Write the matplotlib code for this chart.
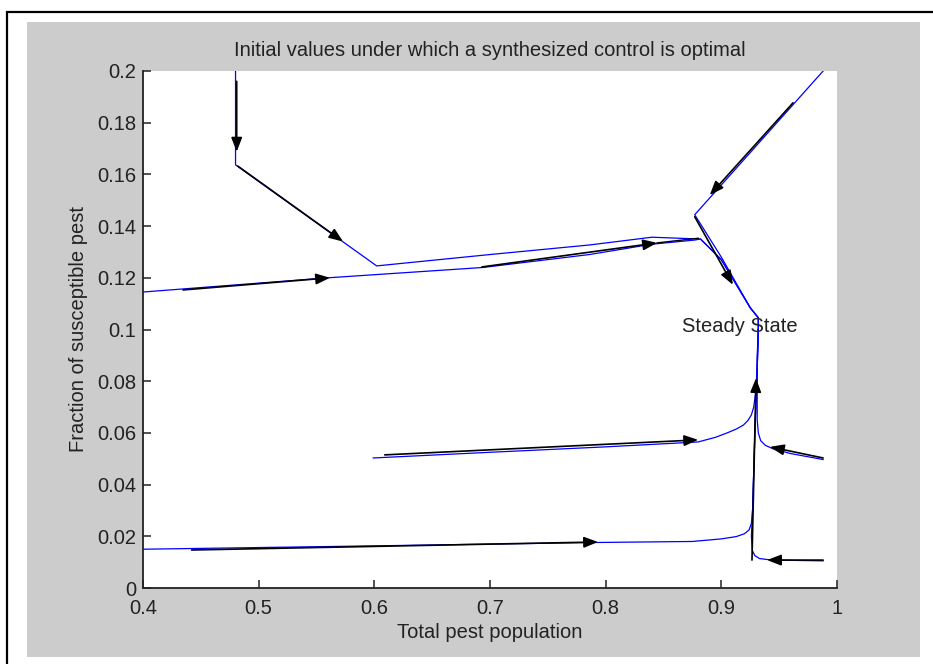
import matplotlib
matplotlib.use('Agg')
import matplotlib.pyplot as plt
from matplotlib.patches import Rectangle

# trajectories (blue)
t1_x = [0.480, 0.480, 0.602, 0.700, 0.786, 0.840, 0.870, 0.882, 0.900, 0.925, 0.932, 0.932]
t1_y = [0.200, 0.1637, 0.1246, 0.1290, 0.1327, 0.1357, 0.1352, 0.1350, 0.1270, 0.1084, 0.1045, 0.100]
t2_x = [0.400, 0.560, 0.694, 0.786, 0.840, 0.877, 0.882, 0.900, 0.925, 0.932, 0.932]
t2_y = [0.1145, 0.1200, 0.1240, 0.1290, 0.1330, 0.1346, 0.1350, 0.1270, 0.1084, 0.1045, 0.100]
t3_x = [0.988, 0.877, 0.900, 0.925, 0.932, 0.932]
t3_y = [0.200, 0.1444, 0.1280, 0.1084, 0.1045, 0.100]
t4_x = [0.599, 0.700, 0.800, 0.880, 0.895, 0.905, 0.913, 0.919, 0.923, 0.926, 0.928, 0.9295, 0.931, 0.932]
t4_y = [0.0503, 0.0525, 0.0546, 0.0565, 0.0583, 0.0600, 0.0615, 0.0630, 0.0648, 0.0670, 0.0700, 0.075, 0.085, 0.100]
t5_x = [0.988, 0.960, 0.945, 0.938, 0.934, 0.932, 0.931, 0.931, 0.932]
t5_y = [0.0497, 0.0520, 0.0538, 0.0552, 0.0570, 0.060, 0.065, 0.090, 0.100]
t6_x = [0.400, 0.600, 0.790, 0.875, 0.900, 0.913, 0.920, 0.924, 0.926, 0.927, 0.929, 0.931, 0.932]
t6_y = [0.0150, 0.0163, 0.0176, 0.0180, 0.0190, 0.0199, 0.0210, 0.0225, 0.025, 0.030, 0.060, 0.085, 0.100]
t7_x = [0.988, 0.960, 0.940, 0.933, 0.929, 0.9268, 0.926, 0.927, 0.929, 0.931, 0.932]
t7_y = [0.0105, 0.0107, 0.0110, 0.0114, 0.0125, 0.0145, 0.020, 0.030, 0.060, 0.085, 0.100]
blue_x = [t1_x, t2_x, t3_x, t4_x, t5_x, t6_x, t7_x]
blue_y = [t1_y, t2_y, t3_y, t4_y, t5_y, t6_y, t7_y]

# direction arrows (black): start -> tip
arr_x0 = [0.481, 0.482, 0.4346, 0.693, 0.962, 0.877, 0.609, 0.9265, 0.988, 0.442, 0.988]
arr_y0 = [0.196, 0.1632, 0.1153, 0.1242, 0.1877, 0.1436, 0.0515, 0.0108, 0.0503, 0.0147, 0.0108]
arr_x1 = [0.481, 0.573, 0.5617, 0.8444, 0.890, 0.910, 0.880, 0.930, 0.942, 0.7934, 0.9395]
arr_y1 = [0.1688, 0.1340, 0.1200, 0.1335, 0.152, 0.1173, 0.0573, 0.0812, 0.0546, 0.0178, 0.0108]
extra_x = [0.8444, 0.880]
extra_y = [0.1335, 0.1353]

xticks = [0.4, 0.5, 0.6, 0.7, 0.8, 0.9, 1.0]
xtick_labels = ['0.4', '0.5', '0.6', '0.7', '0.8', '0.9', '1']
yticks = [0, 0.02, 0.04, 0.06, 0.08, 0.1, 0.12, 0.14, 0.16, 0.18, 0.2]
ytick_labels = ['0', '0.02', '0.04', '0.06', '0.08', '0.1', '0.12', '0.14', '0.16', '0.18', '0.2']

plt.rcParams['font.family'] = ['Liberation Sans', 'DejaVu Sans']
fs = 14.5
tc = '#222222'

fig = plt.figure(figsize=(9.33, 6.64), dpi=100)
fig.patch.set_facecolor('white')
fig.patches.append(Rectangle((27/933, 1-657/664), (920-27)/933, (657-22)/664,
                             transform=fig.transFigure, facecolor='#cccccc', edgecolor='none', zorder=0))
fig.patches.append(Rectangle((7.5/933, -0.1), 1.2, 1.1 - 12/664, transform=fig.transFigure,
                             facecolor='none', edgecolor='black', lw=1.6, zorder=1))

ax = fig.add_axes([143/933, 1-588/664, 694/933, 517/664])
ax.set_zorder(2)
ax.set_facecolor('white')

for xs, ys in zip(blue_x, blue_y):
    ax.plot(xs, ys, color='#0000ff', lw=0.9, zorder=2)

for x0, y0, x1, y1 in zip(arr_x0, arr_y0, arr_x1, arr_y1):
    ax.annotate('', xy=(x1, y1), xytext=(x0, y0),
                arrowprops=dict(arrowstyle='-|>,head_length=0.85,head_width=0.33',
                                color='black', lw=1.2, shrinkA=0, shrinkB=0), zorder=3)
ax.plot(extra_x, extra_y, color='black', lw=1.0, zorder=3)

ax.text(0.866, 0.101, 'Steady State', fontsize=fs, color=tc, ha='left', va='center', zorder=4)

ax.set_xlim(0.4, 1.0)
ax.set_ylim(0, 0.2)
ax.set_xticks(xticks)
ax.set_xticklabels(xtick_labels)
ax.set_yticks(yticks)
ax.set_yticklabels(ytick_labels)
ax.tick_params(direction='in', length=6, width=1.1, color='#222222', labelsize=fs,
               labelcolor=tc, pad=5)
ax.tick_params(axis='x', pad=8)
for s in ['top', 'right']:
    ax.spines[s].set_visible(False)
for s in ['left', 'bottom']:
    ax.spines[s].set_linewidth(1.3)
    ax.spines[s].set_color('#222222')

ax.set_title('Initial values under which a synthesized control is optimal', fontsize=fs, color=tc, pad=11)
ax.set_xlabel('Total pest population', fontsize=fs, color=tc)
ax.set_ylabel('Fraction of susceptible pest', fontsize=fs, color=tc)
ax.xaxis.set_label_coords(0.5, -(623 - 588) / 517)
ax.yaxis.set_label_coords((88 - 143) / 694, 0.5)

fig.savefig('out.png', dpi=100)
